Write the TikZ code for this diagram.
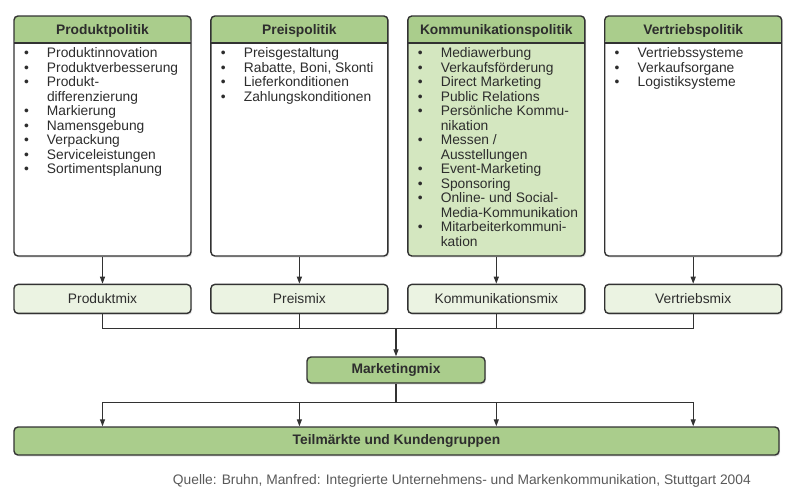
\documentclass[tikz,border=0pt]{standalone}
\usepackage{fontspec}
\setmainfont{Liberation Sans}
\usepackage{xcolor}
\usepackage{tikz}
\usetikzlibrary{positioning, calc, arrows.meta, shadows}
\definecolor{hdGreen}{RGB}{170,205,140}
\definecolor{midGreen}{RGB}{212,231,192}
\definecolor{mixGreen}{RGB}{235,243,226}
\definecolor{lineGray}{RGB}{50,50,50}
\definecolor{txtGray}{RGB}{45,45,45}
\newcommand{\itm}{\makebox[23pt][l]{\textbullet}}
\newcommand{\cnt}{\hspace*{23pt}}
\tikzset{
    polbox/.style={
        draw=lineGray,
        line width=1.4pt,
        rounded corners=4pt,
        fill=white,
        minimum width=177pt,
        minimum height=240pt,
        inner sep=0pt,
        drop shadow={opacity=0.2, shadow xshift=1.2pt, shadow yshift=-1.5pt},
        path picture={
            \fill[hdGreen] (path picture bounding box.north west) rectangle ([yshift=-27pt]path picture bounding box.north east);
            \draw[lineGray, line width=1.4pt] ([yshift=-27pt]path picture bounding box.north west) -- ([yshift=-27pt]path picture bounding box.north east);
        }
    },
    hdtext/.style={
        font=\fontsize{13.8}{14.5}\selectfont\bfseries,
        text=txtGray,
        inner sep=0pt
    },
    itemlist/.style={
        font=\fontsize{13.8}{14.5}\selectfont,
        text=txtGray,
        align=left,
        inner sep=0pt,
        anchor=north west
    },
    mixbox/.style={
        draw=lineGray,
        line width=1.4pt,
        rounded corners=4pt,
        fill=mixGreen,
        minimum width=177pt,
        minimum height=29pt,
        inner sep=0pt,
        drop shadow={opacity=0.2, shadow xshift=1.2pt, shadow yshift=-1.5pt},
        font=\fontsize{13.8}{14.5}\selectfont,
        text=txtGray
    },
    mainbox/.style={
        mixbox,
        fill=hdGreen,
        font=\fontsize{13.8}{14.5}\selectfont\bfseries
    },
    arr/.style={
        -{Triangle[length=7pt, width=5pt]},
        draw=lineGray,
        line width=1.2pt
    },
    line/.style={
        draw=lineGray,
        line width=1.2pt
    },
    src/.style={
        font=\fontsize{13.8}{14}\selectfont,
        text=black!65,
        inner sep=0pt
    }
}

\begin{document}
\begin{tikzpicture}[x=1pt, y=1pt]
    \useasboundingbox (0,0) rectangle (800,-499);

    % Politik-Boxen
    \node[polbox] (prod) at (102.5,-136) {};
    \node[polbox, right=18.5pt of prod] (preis) {};
    \node[polbox, right=18.5pt of preis, fill=midGreen] (komm) {};
    \node[polbox, right=18.5pt of komm] (vert) {};

    % Titel
    \node[hdtext] (prodT) at ([yshift=-15.5pt]prod.north) {Produktpolitik};
    \node[hdtext] (preisT) at ([yshift=-15.5pt]preis.north) {Preispolitik};
    \node[hdtext] (kommT) at ([yshift=-15.5pt]komm.north) {Kommunikationspolitik};
    \node[hdtext] (vertT) at ([yshift=-15.5pt]vert.north) {Vertriebspolitik};

    % Listen
    \node[itemlist] (prodL) at ([shift={(10.5pt,-32pt)}]prod.north west) {
        \itm Produktinnovation\\
        \itm Produktverbesserung\\
        \itm Produkt-\\
        \cnt differenzierung\\
        \itm Markierung\\
        \itm Namensgebung\\
        \itm Verpackung\\
        \itm Serviceleistungen\\
        \itm Sortimentsplanung};
    \node[itemlist] (preisL) at ([shift={(10.5pt,-32pt)}]preis.north west) {
        \itm Preisgestaltung\\
        \itm Rabatte, Boni, Skonti\\
        \itm Lieferkonditionen\\
        \itm Zahlungskonditionen};
    \node[itemlist] (kommL) at ([shift={(10.5pt,-32pt)}]komm.north west) {
        \itm Mediawerbung\\
        \itm Verkaufsförderung\\
        \itm Direct Marketing\\
        \itm Public Relations\\
        \itm Persönliche Kommu-\\
        \cnt nikation\\
        \itm Messen /\\
        \cnt Ausstellungen\\
        \itm Event-Marketing\\
        \itm Sponsoring\\
        \itm Online- und Social-\\
        \cnt Media-Kommunikation\\
        \itm Mitarbeiterkommuni-\\
        \cnt kation};
    \node[itemlist] (vertL) at ([shift={(10.5pt,-32pt)}]vert.north west) {
        \itm Vertriebssysteme\\
        \itm Verkaufsorgane\\
        \itm Logistiksysteme};

    % Mix-Boxen
    \node[mixbox, below=27pt of prod] (prodM) {Produktmix};
    \node[mixbox, below=27pt of preis] (preisM) {Preismix};
    \node[mixbox, below=27pt of komm] (kommM) {Kommunikationsmix};
    \node[mixbox, below=27pt of vert] (vertM) {Vertriebsmix};

    \draw[arr] (prod) -- (prodM);
    \draw[arr] (preis) -- (preisM);
    \draw[arr] (komm) -- (kommM);
    \draw[arr] (vert) -- (vertM);

    % Marketingmix
    \node[mainbox, minimum width=178pt, minimum height=26pt] (mm) at (396,-370) {Marketingmix};
    \coordinate (jtop) at ([yshift=28pt]mm.north);
    \draw[line] (prodM.south) |- (jtop);
    \draw[line] (vertM.south) |- (jtop);
    \draw[line] (preisM.south) -- (preisM.south |- jtop);
    \draw[line] (kommM.south) -- (kommM.south |- jtop);
    \draw[arr] (jtop) -- (mm.north);

    % Teilmaerkte
    \node[mainbox, minimum width=765pt, minimum height=28pt] (tm) at (396.5,-441) {Teilmärkte und Kundengruppen};
    \coordinate (jbot) at ([yshift=-19pt]mm.south);
    \draw[line] (mm.south) -- (jbot);
    \draw[arr] (jbot) -| (prodM.south |- tm.north);
    \draw[arr] (jbot) -| (preisM.south |- tm.north);
    \draw[arr] (jbot) -| (kommM.south |- tm.north);
    \draw[arr] (jbot) -| (vertM.south |- tm.north);

    % Quelle
    \node[src, anchor=east] (quelle) at (751,-481) {Quelle: Bruhn, Manfred: Integrierte Unternehmens- und Markenkommunikation, Stuttgart 2004};
\end{tikzpicture}
\end{document}
